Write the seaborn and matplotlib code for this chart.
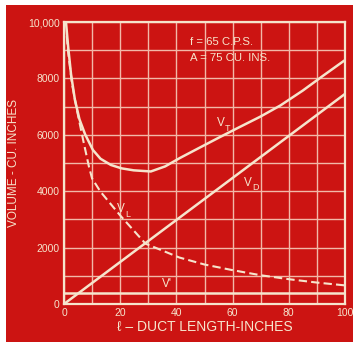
#!/usr/bin/env python3
"""
Duct length vs volume chart (vintage red style)
"""

import matplotlib
matplotlib.use("Agg")
import matplotlib.pyplot as plt
import seaborn as sns
from matplotlib.patches import Rectangle

# Data
# V_T - total volume (solid curve)
lt = [0.7, 1.5, 2.5, 3.9, 5.5, 7.5, 10.3, 13.0, 16.7, 20.5, 24.8, 30.9, 36.0,
      41.3, 48.0, 55.5, 62.0, 69.8, 77.0, 85.0, 92.0, 100.0]
vt = [10000, 9100, 8150, 7230, 6550, 6020, 5460, 5150, 4930, 4810, 4740, 4700, 4880,
      5180, 5530, 5920, 6250, 6640, 7040, 7570, 8080, 8650]

# V_L - dashed curve
ll = [1.0, 1.4, 2.8, 4.6, 6.8, 8.9, 10.0, 13.0, 20.0, 29.0, 41.0, 50.0, 60.0, 70.0,
      80.0, 90.0, 100.0]
vl = [9500, 9000, 7840, 6880, 5820, 4860, 4450, 3980, 3140, 2140, 1650, 1400, 1200,
      1020, 880, 760, 660]

# V_D - straight line
ld = [0, 100]
vd = [0, 7450]

# V' - constant
lp = [0, 100]
vp = [400, 400]

x_ticks = [0, 20, 40, 60, 80, 100]
y_ticks = [0, 2000, 4000, 6000, 8000, 10000]
y_tick_labels = ["0", "2000", "4000", "6000", "8000", "10,000"]

# curve labels: (x, y, subscript)
curve_labels = [(54.5, 6300, "T"), (64, 4200, "D"), (19, 3250, "L")]

RED = "#cc1412"
CREAM = "#f6e4cc"
GRID = "#f2b8a8"

sns.set_style("white")
plt.rcParams['font.family'] = ['Liberation Sans', 'DejaVu Sans']

fig = plt.figure(figsize=(3.58, 3.43), dpi=100, facecolor="white")
# red card behind everything
fig.patches.append(Rectangle((6 / 358, 1 / 343), 347 / 358, 337 / 343,
                             transform=fig.transFigure, facecolor=RED,
                             edgecolor="none", zorder=-10))

ax = fig.add_axes([64 / 358, 39 / 343, 281 / 358, 282 / 343])
ax.set_facecolor(RED)

sns.lineplot(x=lt, y=vt, ax=ax, color=CREAM, linewidth=1.8, estimator=None, sort=False)
sns.lineplot(x=ll, y=vl, ax=ax, color=CREAM, linewidth=1.5, estimator=None, sort=False,
             dashes=False, linestyle=(0, (4, 2)))
sns.lineplot(x=ld, y=vd, ax=ax, color=CREAM, linewidth=1.8, estimator=None)
sns.lineplot(x=lp, y=vp, ax=ax, color=CREAM, linewidth=1.8, estimator=None)

ax.set_xlim(0, 100)
ax.set_ylim(0, 10000)
ax.set_xticks(range(0, 101, 10))
ax.set_yticks(range(0, 10001, 1000))
ax.grid(True, color=GRID, linewidth=1.0)
ax.set_xticklabels([str(t) if t in x_ticks else "" for t in range(0, 101, 10)])
ax.set_yticklabels([y_tick_labels[y_ticks.index(t)] if t in y_ticks else ""
                    for t in range(0, 10001, 1000)])
ax.tick_params(length=0, colors=CREAM, labelsize=7.5, pad=3)
for sp in ax.spines.values():
    sp.set_color(CREAM)
    sp.set_linewidth(1.6)

ax.set_xlabel("ℓ – DUCT LENGTH-INCHES", color=CREAM, fontsize=10, labelpad=1)
ax.set_ylabel("VOLUME - CU. INCHES", color=CREAM, fontsize=8.5, labelpad=6)

# curve labels: V with a subscript letter
for x, y, sub in curve_labels:
    ax.text(x, y, "V", color=CREAM, fontsize=8.5)
    ax.annotate(sub, (x, y), xytext=(5.8, -3), textcoords="offset points",
                color=CREAM, fontsize=6.5)
ax.text(35, 600, "V'", color=CREAM, fontsize=8.5)

ax.text(45, 9200, "f = 65 C.P.S.", color=CREAM, fontsize=8.2)
ax.text(45, 8620, "A = 75 CU. INS.", color=CREAM, fontsize=8.2)

plt.savefig("out.png", dpi=100, facecolor="white")
